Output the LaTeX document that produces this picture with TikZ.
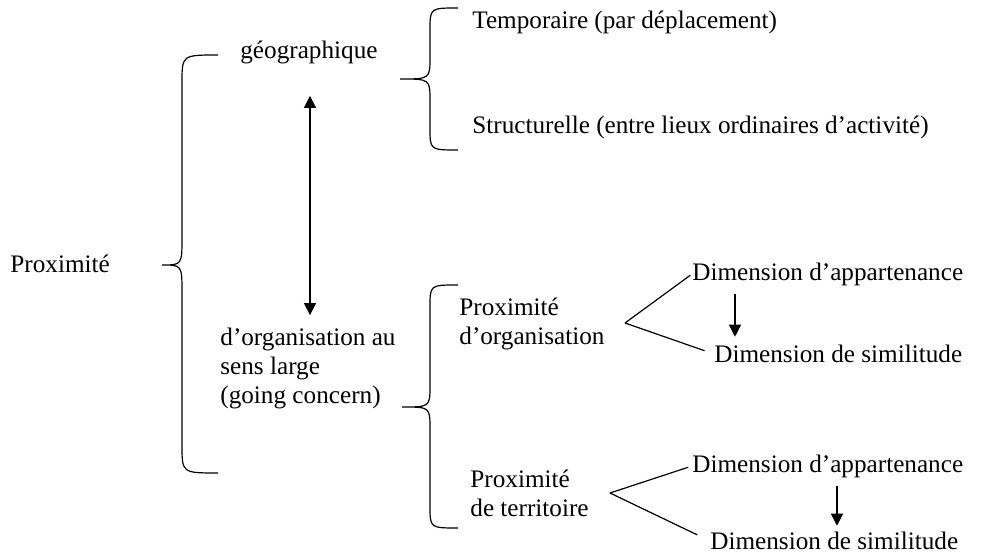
\documentclass[tikz,border=0pt]{standalone}
\usepackage{fontspec}
\setmainfont{Liberation Serif}
\usetikzlibrary{arrows.meta}
\newcommand{\mybrace}[7]{%
  \draw[bracestyle] (#4,#5) .. controls (#3,#5) .. (#3,#5+#7) -- (#3,#2-#7)
    .. controls (#3,#2) .. (#1,#2) .. controls (#3,#2) .. (#3,#2+#7)
    -- (#3,#6-#7) .. controls (#3,#6) .. (#4,#6);}
\begin{document}
\begin{tikzpicture}[x=0.5pt,y=-0.5pt,
  txt/.style={inner sep=0pt,anchor=west,align=left,
    font=\fontsize{12.6}{14.5}\selectfont},
  bracestyle/.style={line width=0.6pt},
  link/.style={line width=0.6pt},
  arr/.style={line width=0.6pt,-{Triangle[width=6pt,length=6pt]}},
  dblarr/.style={line width=0.6pt,{Triangle[width=6pt,length=6pt]}-{Triangle[width=6pt,length=6pt]}}]
\useasboundingbox (0,0) rectangle (982,555);
% texts
\node[txt] (prox) at (10,264) {Proximité};
\node[txt] (geo) at (240,52) {géographique};
\node[txt] (temp) at (472,22) {Temporaire (par déplacement)};
\node[txt] (struct) at (472,127) {Structurelle (entre lieux ordinaires d’activité)};
\node[txt] (orgl) at (220,368) {d’organisation au\\sens large\\(going concern)};
\node[txt] (porg) at (459,324) {Proximité\\d’organisation};
\node[txt] (app1) at (692,274) {Dimension d’appartenance};
\node[txt] (sim1) at (714,354) {Dimension de similitude};
\node[txt] (pter) at (470,493) {Proximité\\de territoire};
\node[txt] (app2) at (692,466) {Dimension d’appartenance};
\node[txt] (sim2) at (710,541) {Dimension de similitude};
% braces
\mybrace{162}{265}{182}{218}{55}{473}{28}
\mybrace{400}{79}{430}{458}{8}{150}{22}
\mybrace{402}{407}{430}{458}{285}{528}{22}
% coordinates
\coordinate (ax) at (310,0);
\coordinate (a1) at (735,0);
\coordinate (a2) at (837,0);
\coordinate (apex1) at (625,323);
\coordinate (apex2) at (610,493);
% connectors
\draw[dblarr,shorten <=16pt,shorten >=6pt] (geo.south -| ax) -- (orgl.north -| ax);
\draw[link,shorten >=1pt] (apex1) -- (app1.west);
\draw[link,shorten >=5pt] (apex1) -- (sim1.west);
\draw[link,shorten >=2pt] (apex2) -- (app2.west);
\draw[link,shorten >=7pt] (apex2) -- (sim2.west);
\draw[arr,shorten <=4pt,shorten >=4pt] (app1.south -| a1) -- (sim1.north -| a1);
\draw[arr,shorten <=4pt,shorten >=3pt] (app2.south -| a2) -- (sim2.north -| a2);
\end{tikzpicture}
\end{document}
